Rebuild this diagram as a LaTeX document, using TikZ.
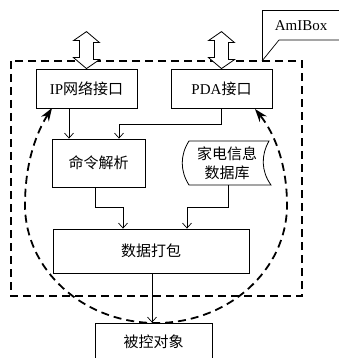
\documentclass[tikz,border=0pt]{standalone}
\usepackage{fontspec}
\setmainfont{Liberation Serif}
\newfontfamily\cjk{Noto Sans CJK SC}
\usetikzlibrary{arrows.meta,calc}
\begin{document}
\begin{tikzpicture}[x=1pt,y=-1pt,
  box/.style={draw,line width=0.8pt,minimum width=#1,inner sep=0pt,font=\fontsize{15pt}{20pt}\selectfont},
  arr/.style={line width=0.7pt,-{Straight Barb[length=5pt,width=9pt]}},
  thickdash/.style={line width=1.8pt,dash pattern=on 8pt off 5pt},
  hollow/.style={draw,line width=0.8pt,fill=white},
  bigtip/.tip={Stealth[length=13pt,width=9pt]}]
\useasboundingbox (0,0) rectangle (339,358);
% AmIBox container
\draw[thickdash] (11,61) rectangle (302,296);
\draw[line width=0.7pt] (262,61) -- (262,10) -- (345,10);
\draw[line width=0.7pt] (345,40) -- (279,40) -- (262,61);
\node[font=\fontsize{15pt}{18pt}\selectfont] (amibox) at (301,26) {AmIBox};
% boxes
\node[box=101pt,minimum height=39pt] (ip) at (86.5,88.5) {IP{\cjk 网络接口}};
\node[box=101pt,minimum height=39pt] (pda) at (221.5,88.5) {PDA{\cjk 接口}};
\node[box=93pt,minimum height=48pt] (cmd) at (98.5,163) {\cjk 命令解析};
\node[box=86pt,minimum height=44pt,draw=none,align=center] (db) at (227,163) {\cjk 家电信息\\[-1pt]\cjk 数据库};
\draw[line width=0.8pt] (189,141) -- (269,141) .. controls (261,155) and (261,171) .. (271,185)
  -- (189,185) .. controls (180,171) and (180,155) .. (189,141) -- cycle;
\node[box=196pt,minimum height=44pt] (pack) at (151,251) {\cjk 数据打包};
\node[box=117pt,minimum height=38pt] (obj) at (153.5,342) {\cjk 被控对象};
% hollow double arrows
\foreach \n in {ip,pda}{
  \draw[hollow] ($(\n.north)+(0,-37)$) coordinate (t) -- ++(13,11) -- ++(-6,0) -- ++(0,17) -- ++(6,0)
    -- (\n.north) -- ++(-13,-11) -- ++(6,0) -- ++(0,-17) -- ++(-6,0) -- cycle;
}
% connectors
\draw[arr] ([xshift=-17.5pt]ip.south) -- ([xshift=-17.5pt]ip.south |- cmd.north);
\draw[arr] (pda.south) -- ++(0,16) -| ([xshift=20.5pt]cmd.north);
\draw[arr] ([xshift=-3.5pt]cmd.south) -- ++(0,20) -| ([xshift=-28pt]pack.north);
\draw[arr] ([xshift=1pt]db.south) -- ++(0,22) -| ([xshift=36pt]pack.north);
\draw[arr] ([xshift=1pt]pack.south) -- ([xshift=1pt]pack.south |- obj.north);
% dashed loop
\coordinate (lt) at (52,108);
\coordinate (rt) at (255,109);
\draw[thickdash,{bigtip}-{bigtip}] (lt) .. controls (38,130) and (25,160) .. (25,205)
  .. controls (25,270) and (83.6,323) .. (156,323)
  .. controls (228.4,323) and (287,270) .. (287,205)
  .. controls (287,160) and (272,130) .. (rt);
\end{tikzpicture}
\end{document}
